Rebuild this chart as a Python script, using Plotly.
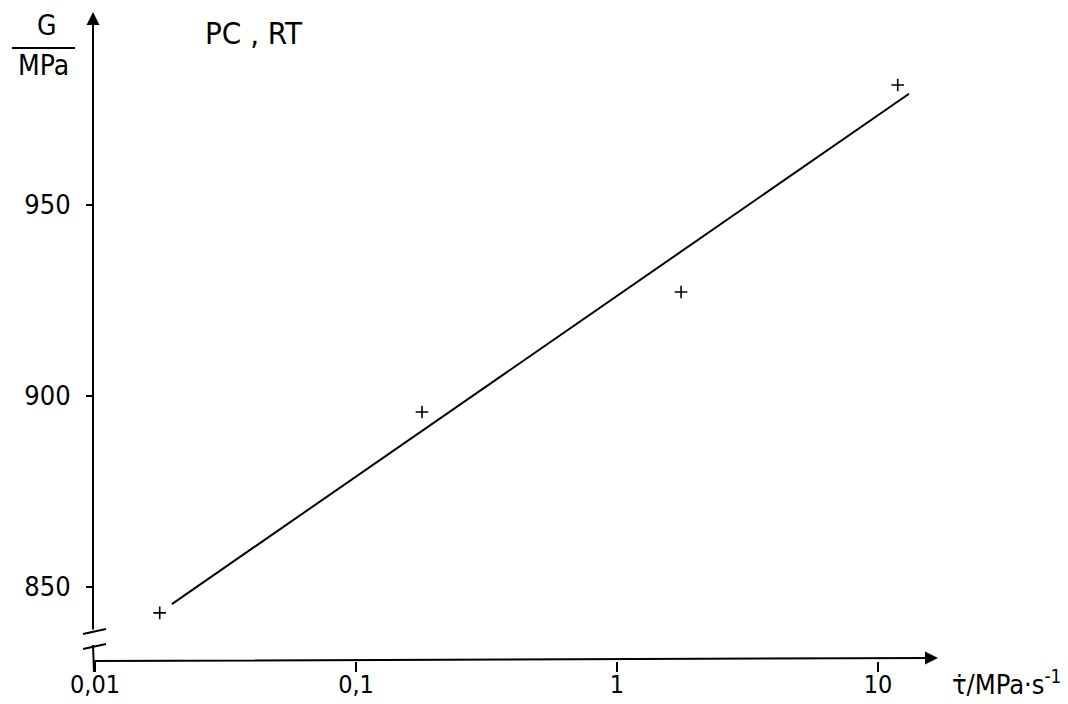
import plotly.graph_objects as go

# Data
rate = [0.0177, 0.179, 1.76, 11.9]          # MPa/s
G = [843.2, 895.8, 927.2, 981.4]            # MPa
fit_rate = [0.0197, 13.15]
fit_G = [845.5, 979.1]

x_tickvals = [0.01, 0.1, 1, 10]
x_ticktext = ["0,01", "0,1", "1", "10"]
y_tickvals = [850, 900, 950]
y_ticktext = ["850", "900", "950"]

FONT = "DejaVu Sans Condensed, Liberation Sans Narrow, sans-serif"

W, H = 1068, 704
L, R, T, B = 95, 130, 12, 43
pw, ph = W - L - R, H - T - B

def px(xp):
    return (xp - L) / pw

def py(yp):
    return (H - B - yp) / ph

fig = go.Figure()
fig.add_trace(go.Scatter(x=fit_rate, y=fit_G, mode="lines",
                         line=dict(color="black", width=2), showlegend=False))
fig.add_trace(go.Scatter(x=rate, y=G, mode="markers",
                         marker=dict(symbol="cross-thin", size=9,
                                     line=dict(color="black", width=1.6)),
                         showlegend=False))

fig.update_layout(
    width=W, height=H,
    margin=dict(l=L, r=R, t=T, b=B, autoexpand=False),
    paper_bgcolor="white", plot_bgcolor="white",
    font=dict(family=FONT, color="black", size=26),
    xaxis=dict(type="log", range=[-2, -2 + pw / 261.0], automargin=False,
               tickvals=x_tickvals, ticktext=x_ticktext,
               ticks="outside", ticklen=10, tickwidth=2, tickcolor="black",
               ticklabelstandoff=-9,
               showgrid=False, zeroline=False, showline=False,
               tickfont=dict(size=25, family=FONT)),
    yaxis=dict(range=[830.6, 1000.5], automargin=False,
               tickvals=y_tickvals, ticktext=y_ticktext,
               ticks="outside", ticklen=8, tickwidth=2, tickcolor="black",
               ticklabelstandoff=10,
               showgrid=False, zeroline=False, showline=False,
               tickfont=dict(size=27, family=FONT)),
)

shapes = []
# lower y-axis segment below break (extends below x-axis as 0,01 tick)
shapes.append(dict(type="line", xref="paper", yref="paper",
                   x0=px(93), x1=px(94), y0=py(645), y1=py(672),
                   line=dict(color="black", width=2)))
# break marks
shapes.append(dict(type="line", xref="paper", yref="paper",
                   x0=px(83), x1=px(106), y0=py(634), y1=py(629),
                   line=dict(color="black", width=2)))
shapes.append(dict(type="line", xref="paper", yref="paper",
                   x0=px(83), x1=px(106), y0=py(649), y1=py(644),
                   line=dict(color="black", width=2)))
# fraction bar of axis title
shapes.append(dict(type="line", xref="paper", yref="paper",
                   x0=px(12), x1=px(75), y0=py(48), y1=py(48),
                   line=dict(color="black", width=2)))
fig.update_layout(shapes=shapes)

ann = []
# y-axis with arrow
ann.append(dict(xref="paper", yref="paper", x=px(93), y=py(12), ax=0, ay=619,
                axref="pixel", ayref="pixel", text="", showarrow=True,
                arrowhead=2, arrowsize=1.3, arrowwidth=2, arrowcolor="black"))
# x-axis with arrow
ann.append(dict(xref="paper", yref="paper", x=px(938), y=py(658), ax=-845, ay=3,
                text="", showarrow=True,
                arrowhead=2, arrowsize=1.3, arrowwidth=2, arrowcolor="black"))
# axis title G / MPa
ann.append(dict(xref="paper", yref="paper", x=px(47), y=py(26), text="G",
                showarrow=False, font=dict(size=28, family=FONT),
                xanchor="center", yanchor="middle"))
ann.append(dict(xref="paper", yref="paper", x=px(43), y=py(66), text="MPa",
                showarrow=False, font=dict(size=28, family=FONT),
                xanchor="center", yanchor="middle"))
# chart label
ann.append(dict(xref="paper", yref="paper", x=px(203), y=py(33), text="PC , RT",
                showarrow=False, font=dict(size=31, family=FONT),
                xanchor="left", yanchor="middle"))
# x-axis title
ann.append(dict(xref="paper", yref="paper", x=px(950), y=py(682),
                text="\u03c4\u0307/MPa\u00b7s<sup>-1</sup>",
                showarrow=False, font=dict(size=27, family=FONT),
                xanchor="left", yanchor="middle"))
fig.update_layout(annotations=ann)

fig.write_html("out.html")
